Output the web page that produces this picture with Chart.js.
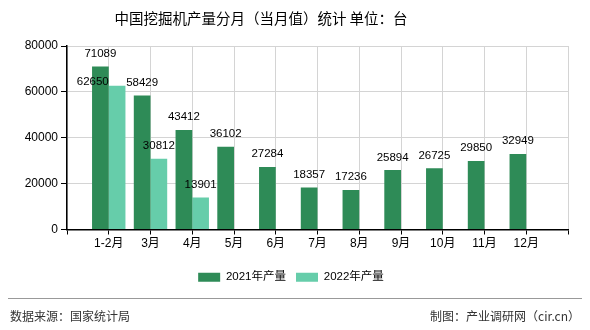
<!DOCTYPE html>
<html lang="zh">
<head>
  <meta charset="UTF-8">
  <title>中国挖掘机产量分月（当月值）统计</title>
  <script src="https://cdn.jsdelivr.net/npm/chart.js"></script>
  <style>
    html, body { margin: 0; padding: 0; background: #fff; }
    #wrap { width: 590px; height: 330px; position: relative; }
  </style>
</head>
<body>
  <div id="wrap"><canvas id="chart" width="590" height="330"></canvas></div>

  <script>
    // monthly output, units: 台
    const months = ['1-2月', '3月', '4月', '5月', '6月', '7月', '8月', '9月', '10月', '11月', '12月'];
    const output2021 = [71089, 58429, 43412, 36102, 27284, 18357, 17236, 25894, 26725, 29850, 32949];
    const output2022 = [62650, 30812, 13901];
    const yTicks = [0, 20000, 40000, 60000, 80000];

    const FONT = '"Liberation Sans", "Noto Sans CJK SC", sans-serif';
    const CJK = '"Noto Sans CJK SC", sans-serif';

    // blank slot on each end so the axis runs a little past the first and last month
    const labels = [''].concat(months, ['']);
    const pad = arr => [null].concat(months.map((m, i) => arr[i] === undefined ? null : arr[i]), [null]);

    // value labels above bars; a label that would collide with the one to its right is tucked left of its bar
    const valueLabels = {
      id: 'valueLabels',
      afterDatasetsDraw(chart) {
        const ctx = chart.ctx;
        ctx.save();
        ctx.font = '11.5px ' + FONT;
        ctx.fillStyle = '#000';
        ctx.textBaseline = 'bottom';
        const boxes = [];
        chart.data.datasets.forEach((ds, di) => {
          chart.getDatasetMeta(di).data.forEach((bar, i) => {
            const v = ds.data[i];
            if (v == null) return;
            const text = String(v);
            const w = ctx.measureText(text).width;
            boxes.push({ text, w, x: bar.x, y: bar.y, bw: bar.width, l: bar.x - w / 2, r: bar.x + w / 2, t: bar.y - 20, b: bar.y - 7 });
          });
        });
        boxes.forEach(b => {
          const hit = boxes.some(o => o !== b && o.l < b.r && o.r > b.l && o.t < b.b && o.b > b.t && o.x > b.x);
          if (hit) {
            ctx.textAlign = 'right';
            ctx.fillText(b.text, b.x - b.bw / 2, b.y + 2);
          } else {
            ctx.textAlign = 'center';
            ctx.fillText(b.text, b.x, b.y - 7);
          }
        });
        ctx.restore();
      }
    };

    // heading, footer rule and source notes
    const frame = {
      id: 'frame',
      afterLayout(chart) {
        // nudge the legend row a bit to the right
        chart.legend.left += 7;
        chart.legend.right += 7;
      },
      afterDraw(chart) {
        const ctx = chart.ctx;
        ctx.save();
        ctx.fillStyle = '#000';
        ctx.font = '14.5px ' + CJK;
        ctx.textAlign = 'center';
        ctx.textBaseline = 'middle';
        ctx.fillText('中国挖掘机产量分月（当月值）统计 单位：台', 261, 18);

        ctx.strokeStyle = '#999';
        ctx.lineWidth = 1;
        ctx.beginPath();
        ctx.moveTo(8, 298.5);
        ctx.lineTo(582, 298.5);
        ctx.stroke();

        ctx.fillStyle = '#333';
        ctx.font = '12px ' + CJK;
        ctx.textAlign = 'left';
        ctx.fillText('数据来源：国家统计局', 10, 316);
        ctx.textAlign = 'right';
        ctx.fillText('制图：产业调研网（cir.cn）', 580, 316);
        ctx.restore();
      }
    };

    new Chart(document.getElementById('chart').getContext('2d'), {
      type: 'bar',
      data: {
        labels: labels,
        datasets: [{
          label: '2021年产量',
          data: pad(output2021),
          backgroundColor: '#2E8B57',
          categoryPercentage: 0.8,
          barPercentage: 1.0
        }, {
          label: '2022年产量',
          data: pad(output2022),
          backgroundColor: '#66CDAA',
          categoryPercentage: 0.8,
          barPercentage: 1.0
        }]
      },
      options: {
        responsive: false,
        animation: false,
        layout: { padding: { left: 0, right: 22, top: 46, bottom: 37 } },
        plugins: {
          tooltip: { enabled: false },
          legend: {
            position: 'bottom',
            labels: {
              boxWidth: 22,
              boxHeight: 9,
              padding: 10,
              color: '#000',
              font: { size: 11.5, family: FONT }
            }
          }
        },
        scales: {
          x: {
            offset: false,
            grid: { offset: false, color: '#d4d4d4', tickColor: '#000', tickLength: 5 },
            border: { color: '#000', width: 1.5 },
            ticks: { autoSkip: false, maxRotation: 0, color: '#000', padding: 2, font: { size: 12, family: FONT } },
            afterFit: s => { s.height = 32; }
          },
          y: {
            min: 0,
            max: 80000,
            afterBuildTicks: s => { s.ticks = yTicks.map(v => ({ value: v })); },
            grid: { color: '#d4d4d4', tickColor: '#000', tickLength: 6 },
            border: { color: '#000', width: 1.5 },
            ticks: { color: '#000', padding: 3, font: { size: 12, family: FONT }, callback: v => String(v) },
            afterFit: s => { s.width = 67; }
          }
        }
      },
      plugins: [valueLabels, frame]
    });
  </script>
</body>
</html>
